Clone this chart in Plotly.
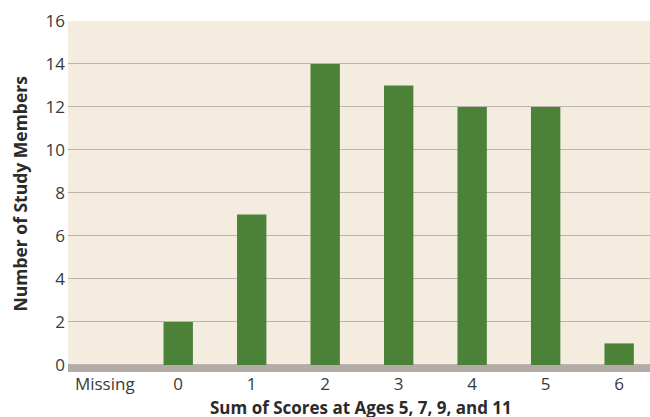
import plotly.graph_objects as go

categories = ["Missing", "0", "1", "2", "3", "4", "5", "6"]
counts = [0, 2, 7, 14, 13, 12, 12, 1]
y_ticks = [0, 2, 4, 6, 8, 10, 12, 14, 16]

GREEN = "#4c8238"
BG = "#f5ece0"
GRID = "#bbb4ad"
BASE = "#b3aca6"
TXT = "#2b2b2b"
FONT = "Open Sans, Lato, sans-serif"

fig = go.Figure()
fig.add_trace(go.Bar(
    x=list(range(len(categories))), y=counts,
    marker=dict(color=GREEN, line=dict(width=0)),
    width=0.4, hoverinfo="skip",
))

fig.update_layout(
    width=650, height=417,
    margin=dict(l=68, r=0, t=21, b=45),
    paper_bgcolor="white", plot_bgcolor=BG,
    showlegend=False,
    font=dict(family=FONT, color=TXT, size=17),
    xaxis=dict(
        range=[-0.5, 7.42],
        tickmode="array", tickvals=list(range(len(categories))), ticktext=categories,
        showgrid=False, zeroline=False, showline=False, ticks="",
        tickfont=dict(family=FONT, size=17, color="#3a3a3a"),
    ),
    yaxis=dict(
        range=[-0.33, 16], tickmode="array", tickvals=y_ticks,
        showgrid=True, gridcolor=GRID, gridwidth=1.2,
        zeroline=False, showline=False, ticks="", ticklabelstandoff=2,
        tickfont=dict(family=FONT, size=17, color="#3a3a3a"),
    ),
    shapes=[dict(
        type="rect", xref="paper", x0=0, x1=1, yref="y", y0=-0.33, y1=0,
        fillcolor=BASE, line=dict(width=0), layer="above",
    )],
    annotations=[
        dict(text="<b>Number of Study Members</b>", textangle=-90,
             xref="paper", x=0, xshift=-49, xanchor="center",
             yref="paper", y=0.5, yshift=3, yanchor="middle", showarrow=False,
             font=dict(size=17.5, color=TXT)),
        dict(text="<b>Sum of Scores at Ages 5, 7, 9, and 11</b>",
             xref="paper", x=0.5, xshift=2, yref="paper", y=0, yshift=-35,
             xanchor="center", yanchor="middle", showarrow=False,
             font=dict(size=17, color=TXT)),
    ],
)

fig.write_html("out.html", config={"displayModeBar": False},
               post_script="document.body.style.margin='0';document.body.style.padding='0';")
